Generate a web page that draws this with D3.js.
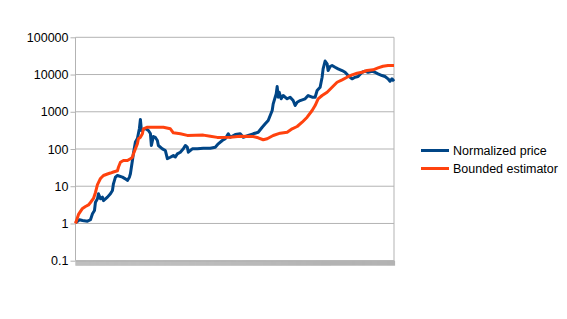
<!DOCTYPE html>
<html>
<head>
<meta charset="utf-8">
<script src="https://cdn.jsdelivr.net/npm/d3@7"></script>
<style>
  body { margin: 0; background: #fff; }
  svg { font-family: "Liberation Sans", Arial, sans-serif; }
</style>
</head>
<body>
<script>
// series values, sampled along the category index
const priceIdx = [0, 4, 7, 12, 15, 17, 19, 20, 22, 23, 25, 27, 28, 32, 35, 37, 38, 40, 42, 47, 50, 52, 54, 55, 57, 58, 60, 62, 63, 64, 65, 66, 70, 73, 75, 76, 78, 80, 82, 83, 87, 90, 92, 95, 98, 100, 102, 105, 108, 110, 112, 113, 117, 122, 128, 135, 140, 143, 147, 150, 153, 155, 160, 165, 168, 173, 178, 183, 187, 190, 193, 197, 198, 200, 201, 202, 203, 204, 206, 208, 212, 215, 218, 220, 222, 225, 230, 233, 237, 240, 242, 245, 247, 248, 250, 252, 253, 255, 257, 260, 263, 267, 270, 273, 277, 280, 283, 287, 290, 293, 297, 300, 303, 307, 310, 313, 315, 317, 319];
const priceVal = [1.04, 1.26, 1.2, 1.15, 1.26, 1.82, 2.23, 3.73, 4.6, 6.3, 4.6, 5.1, 4.1, 5.1, 6.3, 7.7, 11.6, 17.5, 19.4, 17.5, 15.8, 14.3, 17.5, 21.6, 49, 76, 154, 191, 261, 355, 620, 314, 355, 314, 261, 124, 216, 204, 169, 124, 101, 91, 55, 60, 67, 61, 74, 82, 101, 124, 112, 82, 101, 101, 105, 105, 112, 138, 169, 188, 256, 207, 245, 256, 207, 230, 256, 282, 385, 475, 582, 1080, 1630, 2460, 3030, 4760, 2460, 3350, 2230, 2730, 2230, 2460, 2000, 1470, 1800, 2000, 2230, 2730, 2460, 2460, 3720, 4560, 8470, 14200, 23000, 19400, 12800, 16400, 17500, 15700, 14200, 12800, 11500, 9400, 7670, 8470, 8830, 11500, 12300, 11500, 12300, 11500, 10400, 9400, 8830, 7670, 6610, 7670, 6610];

const estIdx = [0, 3, 7, 10, 13, 15, 18, 20, 22, 25, 28, 32, 35, 38, 42, 43, 45, 48, 52, 55, 57, 58, 62, 63, 65, 67, 68, 72, 78, 88, 95, 98, 105, 112, 128, 135, 142, 155, 165, 178, 183, 188, 192, 198, 205, 212, 217, 222, 227, 232, 237, 240, 243, 247, 252, 257, 262, 267, 272, 277, 282, 287, 292, 298, 303, 308, 313, 319];
const estVal = [1.0, 1.75, 2.53, 2.86, 3.14, 3.66, 4.7, 6.8, 11.1, 16.1, 19.4, 21.3, 22.6, 24.1, 26, 32.4, 44, 49, 49, 55, 60, 74, 138, 188, 207, 256, 349, 385, 385, 385, 349, 272, 256, 232, 236, 221, 205, 207, 221, 217, 200, 177, 188, 230, 266, 282, 349, 402, 524, 715, 1080, 1470, 2230, 2730, 3350, 4560, 6210, 7210, 8470, 9820, 10800, 11500, 12800, 13400, 15100, 16700, 17500, 17500];

const categories = d3.range(320);
const yTicks = [0.1, 1, 10, 100, 1000, 10000, 100000];
const seriesNames = ["Normalized price", "Bounded estimator"];
const seriesColors = ["#004586", "#ff420e"];

const W = 567, H = 319;
const svg = d3.select("body").append("svg").attr("width", W).attr("height", H);

const x = d3.scaleLinear().domain([0, categories.length - 1]).range([75.5, 394]);
const y = d3.scaleLog().domain([0.1, 100000]).range([260.7, 37.3]);

// horizontal grid
svg.append("g")
  .selectAll("line")
  .data(yTicks)
  .join("line")
  .attr("x1", x.range()[0]).attr("x2", x.range()[1])
  .attr("y1", d => y(d)).attr("y2", d => y(d))
  .attr("stroke", "#b3b3b3").attr("stroke-width", 1);

// right border
svg.append("line")
  .attr("x1", x.range()[1]).attr("x2", x.range()[1])
  .attr("y1", y(100000)).attr("y2", y(0.1))
  .attr("stroke", "#b3b3b3");

// y axis
const yAxis = svg.append("g")
  .attr("transform", `translate(${x.range()[0]},0)`)
  .call(d3.axisLeft(y).tickValues(yTicks).tickFormat(d => String(d)).tickSize(5).tickPadding(2));
yAxis.selectAll("line, path").attr("stroke", "#b3b3b3");
yAxis.select(".domain").attr("d", `M0,${y(100000)}V${y(0.1)}`);
yAxis.selectAll("text").attr("font-size", 12.5).attr("fill", "#000")
  .attr("font-family", "Liberation Sans, Arial, sans-serif");

// x axis: one tick per category, dense enough to look like a band
const xAxis = svg.append("g")
  .attr("transform", `translate(0,${y(0.1)})`)
  .call(d3.axisBottom(x).tickValues(categories).tickFormat("").tickSize(5).tickSizeOuter(0));
xAxis.selectAll("line, path").attr("stroke", "#b3b3b3").attr("stroke-width", 1.2);

const line = d3.line().x(d => x(d[0])).y(d => y(d[1]));

const price = priceIdx.map((d, i) => [d, priceVal[i]]);
const est = estIdx.map((d, i) => [d, estVal[i]]);

[price, est].forEach((s, k) => {
  svg.append("path")
    .datum(s)
    .attr("fill", "none")
    .attr("stroke", seriesColors[k])
    .attr("stroke-width", 3)
    .attr("stroke-linejoin", "round")
    .attr("d", line);
});

// legend
const legend = svg.append("g");
seriesNames.forEach((name, k) => {
  const ly = 150.5 + k * 18;
  legend.append("line")
    .attr("x1", 421).attr("x2", 449).attr("y1", ly).attr("y2", ly)
    .attr("stroke", seriesColors[k]).attr("stroke-width", 3);
  legend.append("text")
    .attr("x", 453).attr("y", ly)
    .attr("dy", "0.35em")
    .attr("font-size", 12.5)
    .text(name);
});
</script>
</body>
</html>
